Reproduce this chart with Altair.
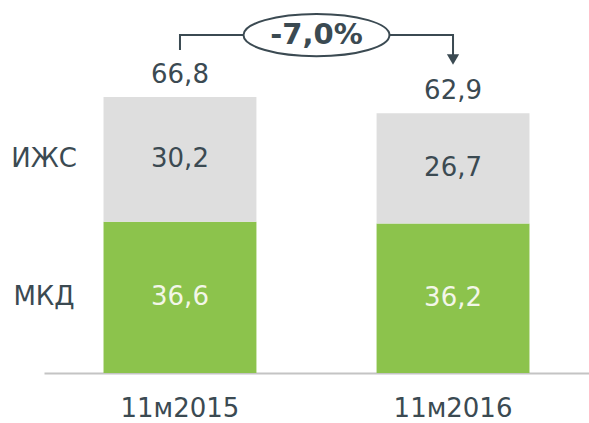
import altair as alt
import pandas as pd

periods = ["11м2015", "11м2016"]
mkd = [36.6, 36.2]
izhs = [30.2, 26.7]
totals = [66.8, 62.9]
change_label = "-7,0%"
row_labels = ["ИЖС", "МКД"]

GREEN = "#8cc34c"
GREY = "#dedede"
DARK = "#3b4a52"
LIGHT = "#f3f6e8"
FONT = "DejaVu Sans"
FS = 26

def fmt(v):
    return f"{v:.1f}".replace(".", ",")

rows = []
for p, m, z in zip(periods, mkd, izhs):
    rows.append(dict(period=p, seg="МКД", start=0, end=m, mid=m / 2, label=fmt(m)))
    rows.append(dict(period=p, seg="ИЖС", start=m, end=m + z, mid=m + z / 2, label=fmt(z)))
df = pd.DataFrame(rows)

tot_df = pd.DataFrame(dict(period=periods, total=totals, label=[fmt(t) for t in totals]))

row_df = pd.DataFrame(dict(
    name=row_labels,
    mid=[mkd[0] + izhs[0] / 2, mkd[0] / 2],
))

top_y = max(totals) + 15
bracket = pd.DataFrame(dict(
    period=[periods[0], periods[0], periods[1], periods[1]],
    y=[totals[0] + 11.4, top_y, top_y, totals[1] + 13.0],
    o=[0, 1, 2, 3],
))
ell_df = pd.DataFrame(dict(period=[periods[0]], y=[top_y], label=[change_label]))
arrow_df = pd.DataFrame(dict(period=[periods[1]], y=[totals[1] + 13.0]))

xscale = alt.Scale(domain=periods, paddingInner=0.44, paddingOuter=0.218)
yscale = alt.Scale(domain=[0, 90.3], nice=False, zero=False)

X = alt.X("period:N", scale=xscale, sort=periods,
          axis=alt.Axis(title=None, labelAngle=0, ticks=False, domainColor="#c4c4c4",
                        domainWidth=2, labelFontSize=FS, labelPadding=22, labelColor=DARK,
                        labelFont=FONT, labelBaseline="top"))
Xp = alt.X("period:N", scale=xscale, sort=periods)

bars = alt.Chart(df).mark_bar().encode(
    x=X,
    y=alt.Y("start:Q", scale=yscale, axis=None),
    y2="end:Q",
    color=alt.Color("seg:N", scale=alt.Scale(domain=["МКД", "ИЖС"], range=[GREEN, GREY]), legend=None),
)

seg_text = alt.Chart(df).mark_text(fontSize=FS, font=FONT, baseline="middle").encode(
    x=Xp,
    y=alt.Y("mid:Q", scale=yscale),
    text="label:N",
    color=alt.condition(alt.datum.seg == "МКД", alt.value(LIGHT), alt.value(DARK)),
)

tot_text = alt.Chart(tot_df).mark_text(fontSize=FS, font=FONT, baseline="middle", dy=-22, color=DARK).encode(
    x=Xp,
    y=alt.Y("total:Q", scale=yscale),
    text="label:N",
)

row_text = alt.Chart(row_df).mark_text(fontSize=FS, font=FONT, baseline="middle", align="center", color=DARK).encode(
    x=alt.value(0),
    y=alt.Y("mid:Q", scale=yscale),
    text="name:N",
)

bline = alt.Chart(bracket).mark_line(color=DARK, strokeWidth=2).encode(
    x=Xp,
    y=alt.Y("y:Q", scale=yscale),
    order="o:Q",
)

ellipse = alt.Chart(ell_df).mark_point(
    shape="M-1,0A1,0.29,0,1,1,1,0A1,0.29,0,1,1,-1,0Z",
    size=21316, filled=True, fill="white", stroke=DARK, strokeWidth=2, opacity=1,
    xOffset=136.5,
).encode(
    x=Xp,
    y=alt.Y("y:Q", scale=yscale),
)

ell_text = alt.Chart(ell_df).mark_text(fontSize=29, font=FONT, fontWeight="bold", baseline="middle",
                                       color=DARK, xOffset=136.5).encode(
    x=Xp,
    y=alt.Y("y:Q", scale=yscale),
    text="label:N",
)

arrow = alt.Chart(arrow_df).mark_point(shape="triangle-down", size=150, filled=True, fill=DARK,
                                       opacity=1, strokeWidth=0).encode(
    x=Xp,
    y=alt.Y("y:Q", scale=yscale),
)

chart = alt.layer(bars, seg_text, tot_text, row_text, bline, ellipse, ell_text, arrow).properties(
    width=545, height=373,
    autosize=alt.AutoSizeParams(type="none"),
    padding={"left": 44, "top": 0, "right": 0, "bottom": 50},
).configure_view(stroke=None)

chart.save("out.html", embed_options={"renderer": "svg", "actions": False})
